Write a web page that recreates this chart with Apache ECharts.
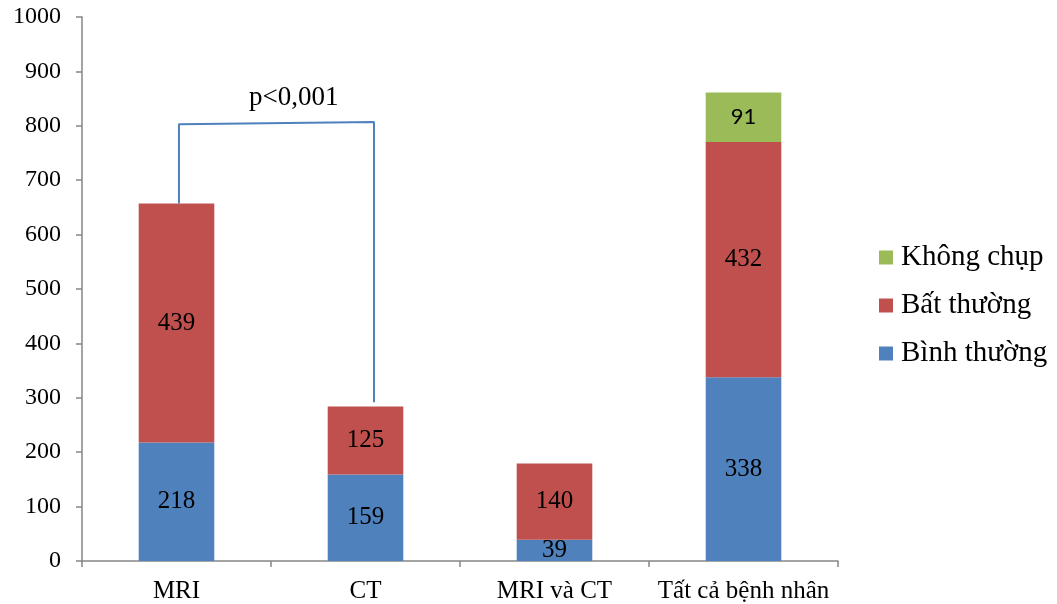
<!DOCTYPE html>
<html>
<head>
<meta charset="utf-8">
<script src="https://cdn.jsdelivr.net/npm/echarts@6/dist/echarts.min.js"></script>
<style>
  html, body { margin: 0; padding: 0; background: #ffffff; }
  #chart { width: 1057px; height: 604px; }
</style>
</head>
<body>
<div id="chart"></div>
<script>
// Patient groups on the x axis
const categories = ['MRI', 'CT', 'MRI và CT', 'Tất cả bệnh nhân'];
// Stacked counts per group
const normalCounts = [218, 159, 39, 338];     // Bình thường
const abnormalCounts = [439, 125, 140, 432];  // Bất thường
const notImaged = [null, null, null, 91];     // Không chụp
// Y axis range and ticks
const yMin = 0, yMax = 1000, yStep = 100;
// Comparison bracket between MRI and CT (x in category units, y in counts)
const bracketPath = [[0.513, 657], [0.513, 803], [1.545, 807], [1.545, 292]];
const bracketLabel = 'p<0,001';
const bracketLabelPos = [1.12, 851];

const serif = '"Liberation Serif", "Times New Roman", serif';
const axisGray = '#868686';

const chart = echarts.init(document.getElementById('chart'));

function barLabel(fontFamily, fontSize) {
  return {
    show: true,
    position: 'inside',
    color: '#000',
    fontFamily: fontFamily,
    fontSize: fontSize,
    formatter: p => (p.value == null ? '' : String(p.value))
  };
}

chart.setOption({
  animation: false,
  backgroundColor: '#ffffff',
  grid: { left: 82, right: 219, top: 17, bottom: 43, containLabel: false },
  legend: {
    orient: 'vertical',
    left: 879,
    top: 243,
    padding: 0,
    itemWidth: 14,
    itemHeight: 14,
    itemGap: 19,
    icon: 'rect',
    data: ['Không chụp', 'Bất thường', 'Bình thường'],
    textStyle: { fontFamily: serif, fontSize: 29, color: '#000', padding: [0, 0, 0, 3] }
  },
  xAxis: [
    {
      type: 'category',
      data: categories,
      axisLine: { lineStyle: { color: axisGray, width: 1.5 } },
      axisTick: { show: true, length: 6, lineStyle: { color: axisGray, width: 1.5 } },
      axisLabel: { color: '#000', fontFamily: serif, fontSize: 25, margin: 18, interval: 0 },
      splitLine: { show: false }
    },
    {
      type: 'value',
      min: 0,
      max: categories.length,
      show: false
    }
  ],
  yAxis: {
    type: 'value',
    min: yMin,
    max: yMax,
    interval: yStep,
    axisLine: { show: true, lineStyle: { color: axisGray, width: 1.5 } },
    axisTick: { show: true, length: 6, lineStyle: { color: axisGray, width: 1.5 } },
    axisLabel: { color: '#000', fontFamily: serif, fontSize: 24, margin: 21, formatter: v => String(v) },
    splitLine: { show: false }
  },
  series: [
    {
      name: 'Bình thường',
      type: 'bar',
      stack: 'total',
      data: normalCounts,
      barWidth: '40%',
      itemStyle: { color: '#4F81BD' },
      label: barLabel(serif, 25)
    },
    {
      name: 'Bất thường',
      type: 'bar',
      stack: 'total',
      data: abnormalCounts,
      barWidth: '40%',
      itemStyle: { color: '#C0504D' },
      label: barLabel(serif, 25)
    },
    {
      name: 'Không chụp',
      type: 'bar',
      stack: 'total',
      data: notImaged,
      barWidth: '40%',
      itemStyle: { color: '#9BBB59' },
      label: barLabel('Lato, "Open Sans", sans-serif', 22)
    },
    {
      name: 'bracket',
      type: 'line',
      xAxisIndex: 1,
      data: bracketPath,
      symbol: 'none',
      silent: true,
      lineStyle: { color: '#4F81BD', width: 2 },
      z: 5,
      markPoint: {
        symbol: 'circle',
        symbolSize: 0,
        silent: true,
        data: [{
          coord: bracketLabelPos,
          label: {
            show: true,
            formatter: bracketLabel,
            color: '#000',
            fontFamily: serif,
            fontSize: 27
          }
        }]
      }
    }
  ]
});
</script>
</body>
</html>
